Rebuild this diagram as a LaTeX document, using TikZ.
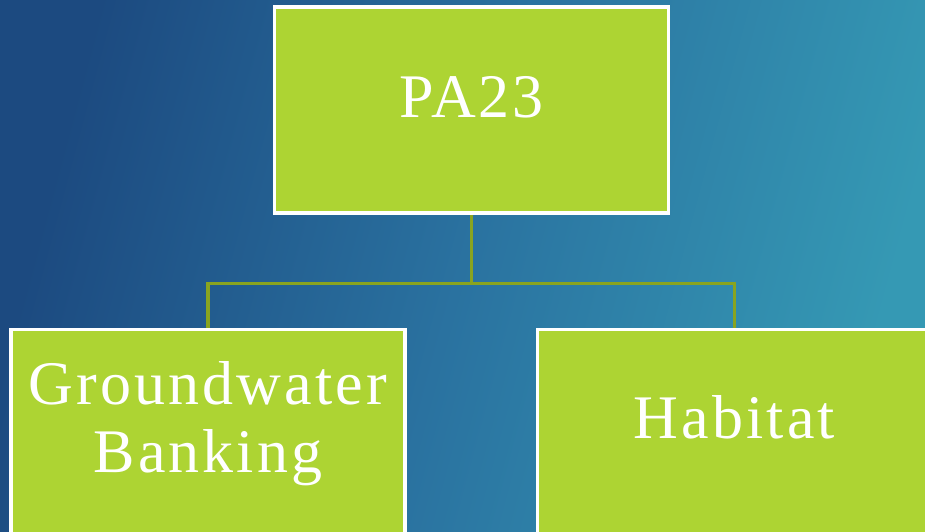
\documentclass[tikz,border=0pt]{standalone}
\usepackage{fontspec}
\usepackage{tikz}
\usetikzlibrary{positioning}
\newfontfamily\boxfont[LetterSpace=5]{Liberation Serif}
\definecolor{bgdark}{HTML}{1C4A80}
\definecolor{bgmid}{HTML}{2A72A0}
\definecolor{bglight}{HTML}{3599B4}
\definecolor{lime}{HTML}{ADD433}
\definecolor{olive}{HTML}{89A420}

\begin{document}
\begin{tikzpicture}[x=1pt,y=-1pt,node distance=116pt]
    \tikzstyle{pabox}=[rectangle,fill=lime,draw=white,line width=3.5pt,minimum width=394pt,minimum height=206pt,inner sep=0pt]
    \tikzstyle{palabel}=[text=white,font=\boxfont\fontsize{62}{68}\selectfont,align=center,anchor=base,inner sep=0pt]
    \tikzstyle{link}=[draw=olive,line width=3.2pt]
    \clip (0,0) rectangle (925,531);
    \useasboundingbox (0,0) rectangle (925,531);
    \shade[left color=bgdark,right color=bglight,middle color=bgmid,shading angle=75] (0,0) rectangle (925,531);
    % places of the boxes
    \coordinate (topc) at (471.5,110);
    \node[minimum width=394pt,minimum height=206pt] (top) at (topc) {};
    \node[minimum width=394pt,minimum height=206pt] (ground) [below=116pt of top,xshift=-263.5pt] {};
    \node[minimum width=394pt,minimum height=206pt] (habitat) [below=116pt of top,xshift=263pt] {};
    % connectors
    \path[link] (top.south) -- ++(0,70) coordinate (fork) -| (ground.north)
                (fork) -| (habitat.north);
    % boxes
    \node[pabox] (topbox)     at (top)     {};
    \node[pabox] (groundbox)  at (ground)  {};
    \node[pabox] (habitatbox) at (habitat) {};
    % labels
    \node[palabel] (toplabel)     at ([yshift=-7pt]topbox.center)      {PA23};
    \node[palabel] (groundlabel)  at ([yshift=-40pt]groundbox.center)  {Groundwater\\Banking};
    \node[palabel] (habitatlabel) at ([yshift=-6pt]habitatbox.center)  {Habitat};
\end{tikzpicture}
\end{document}
